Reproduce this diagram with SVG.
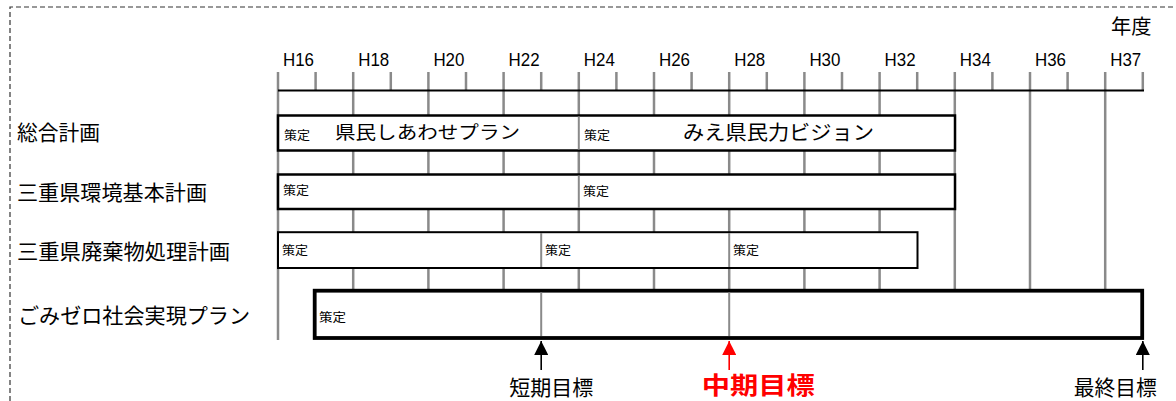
<svg xmlns="http://www.w3.org/2000/svg" width="1176" height="401" viewBox="0 0 1176 401">
<style>
.bg{fill:#fff}
.frame{fill:none;stroke:#333;stroke-width:1.2;stroke-dasharray:5 3}
.grid{stroke:#8a8a8a;stroke-width:2.5;fill:none}
.div{stroke:#8a8a8a;stroke-width:2;fill:none}
.axis{stroke:#000;stroke-width:2;fill:none}
.bar{fill:#fff;stroke:#000}
.yr{font-family:"Liberation Sans",Arial,sans-serif;font-size:19px;fill:#000}
.jp{font-family:"Noto Sans CJK JP","Noto Sans CJK SC",sans-serif;fill:#000}
.lbl{font-size:21px}
.sm{font-size:12px}
.goal{font-size:21px}
.mid{font-size:23.5px;font-weight:bold;fill:#ff0000}
.arr{stroke:#000;stroke-width:1.6;fill:none}
.arr.red{stroke:#ff0000}
</style>
<defs>
<marker id="ahk" viewBox="0 0 14 14" refX="14" refY="7" markerWidth="14" markerHeight="14" orient="auto" markerUnits="userSpaceOnUse"><path d="M0,0 L14,7 L0,14 z" fill="#000"/></marker>
<marker id="ahr" viewBox="0 0 14 14" refX="14" refY="7" markerWidth="14" markerHeight="14" orient="auto" markerUnits="userSpaceOnUse"><path d="M0,0 L14,7 L0,14 z" fill="#ff0000"/></marker>
</defs>
<rect class="bg" x="0" y="0" width="1176" height="401"/>
<path class="frame" d="M10,401 V7 H1176"/>

<g id="timeline-axis">
<g class="grid">
<path d="M278,72V340 M353.2,72V290 M428.4,72V290 M503.6,72V290 M578.8,72V290 M654,72V290 M729.2,72V290 M804.4,72V290 M879.6,72V290 M954.8,72V290 M1030,72V290 M1105.2,72V290"/>
<path d="M315.6,72V90 M390.8,72V90 M466,72V90 M541.2,72V90 M616.4,72V90 M691.6,72V90 M766.8,72V90 M842,72V90 M917.2,72V90 M992.4,72V90 M1067.6,72V90 M1142.8,72V90"/>
</g>
<path class="axis" d="M278,90.5H1144"/>
<g class="yr">
<text x="283" y="66" textLength="31" lengthAdjust="spacingAndGlyphs">H16</text>
<text x="358.2" y="66" textLength="31" lengthAdjust="spacingAndGlyphs">H18</text>
<text x="433.4" y="66" textLength="31" lengthAdjust="spacingAndGlyphs">H20</text>
<text x="508.6" y="66" textLength="31" lengthAdjust="spacingAndGlyphs">H22</text>
<text x="583.8" y="66" textLength="31" lengthAdjust="spacingAndGlyphs">H24</text>
<text x="659" y="66" textLength="31" lengthAdjust="spacingAndGlyphs">H26</text>
<text x="734.2" y="66" textLength="31" lengthAdjust="spacingAndGlyphs">H28</text>
<text x="809.4" y="66" textLength="31" lengthAdjust="spacingAndGlyphs">H30</text>
<text x="884.6" y="66" textLength="31" lengthAdjust="spacingAndGlyphs">H32</text>
<text x="959.8" y="66" textLength="31" lengthAdjust="spacingAndGlyphs">H34</text>
<text x="1035" y="66" textLength="31" lengthAdjust="spacingAndGlyphs">H36</text>
<text x="1110.2" y="66" textLength="31" lengthAdjust="spacingAndGlyphs">H37</text>
</g>
<text class="jp" x="1111" y="33.5" font-size="20" textLength="40.5" lengthAdjust="spacingAndGlyphs">年度</text>
</g>

<g id="row-sogo">
<text class="jp lbl" x="17" y="140" textLength="83" lengthAdjust="spacingAndGlyphs">総合計画</text>
<rect class="bar" x="278" y="115.5" width="677" height="35" stroke-width="2.5"/>
<path class="div" d="M578.8,116.5V149.5"/>
<text class="jp sm" x="284" y="139.5" textLength="26" lengthAdjust="spacingAndGlyphs">策定</text>
<text class="jp" x="335" y="139" font-size="18" textLength="185" lengthAdjust="spacingAndGlyphs">県民しあわせプラン</text>
<text class="jp sm" x="584" y="140" textLength="26" lengthAdjust="spacingAndGlyphs">策定</text>
<text class="jp" x="683" y="140" font-size="20" textLength="191" lengthAdjust="spacingAndGlyphs">みえ県民力ビジョン</text>
</g>

<g id="row-kankyo">
<text class="jp lbl" x="17" y="200" textLength="190" lengthAdjust="spacingAndGlyphs">三重県環境基本計画</text>
<rect class="bar" x="278" y="174.5" width="677" height="34.5" stroke-width="2.5"/>
<path class="div" d="M578.8,175.5V208"/>
<text class="jp sm" x="283" y="195" textLength="26" lengthAdjust="spacingAndGlyphs">策定</text>
<text class="jp sm" x="583" y="195.5" textLength="26" lengthAdjust="spacingAndGlyphs">策定</text>
</g>

<g id="row-haikibutsu">
<text class="jp lbl" x="17" y="258.5" textLength="213" lengthAdjust="spacingAndGlyphs">三重県廃棄物処理計画</text>
<rect class="bar" x="278" y="232.2" width="639.5" height="35.8" stroke-width="2"/>
<path class="div" d="M541.2,233V267 M729.2,233V267"/>
<text class="jp sm" x="282" y="255" textLength="26" lengthAdjust="spacingAndGlyphs">策定</text>
<text class="jp sm" x="545" y="255" textLength="26" lengthAdjust="spacingAndGlyphs">策定</text>
<text class="jp sm" x="733" y="255" textLength="26" lengthAdjust="spacingAndGlyphs">策定</text>
</g>

<g id="row-gomizero">
<text class="jp lbl" x="18" y="323" textLength="232" lengthAdjust="spacingAndGlyphs">ごみゼロ社会実現プラン</text>
<rect class="bar" x="314.7" y="290.7" width="827.5" height="47.3" stroke-width="3.8"/>
<path class="div" d="M541.2,292.5V336 M729.2,292.5V336"/>
<text class="jp sm" x="319" y="322" textLength="27" lengthAdjust="spacingAndGlyphs">策定</text>
</g>

<g id="connectors">
<path class="arr" d="M541.2,370V341" marker-end="url(#ahk)"/>
<path class="arr red" d="M729.2,370V341" marker-end="url(#ahr)"/>
<path class="arr" d="M1142.8,370V341" marker-end="url(#ahk)"/>
</g>

<g id="goals">
<text class="jp goal" x="509.3" y="395" textLength="84" lengthAdjust="spacingAndGlyphs">短期目標</text>
<text class="jp mid" x="701.7" y="394" textLength="113" lengthAdjust="spacingAndGlyphs">中期目標</text>
<text class="jp goal" x="1073.7" y="395" font-size="20" textLength="83" lengthAdjust="spacingAndGlyphs">最終目標</text>
</g>
</svg>
